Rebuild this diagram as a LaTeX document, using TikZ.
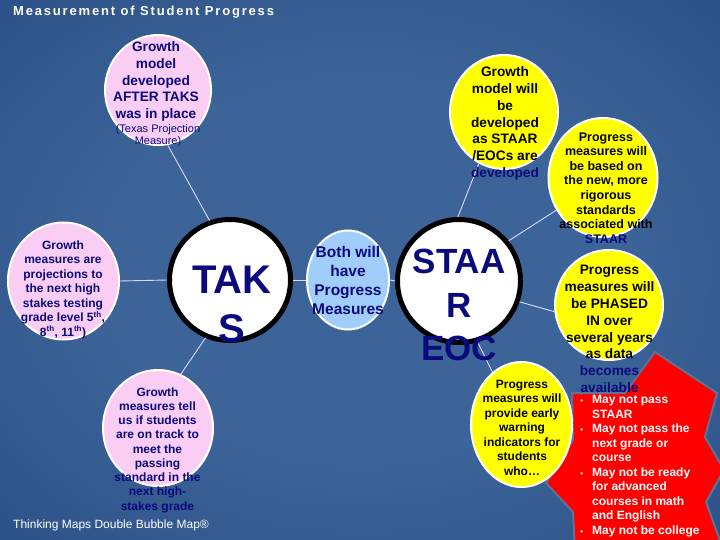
\documentclass[tikz,border=0pt]{standalone}
\usepackage{fontspec}
\setmainfont{Liberation Sans}
\usetikzlibrary{shapes.geometric}
\definecolor{navy}{RGB}{10,10,125}
\definecolor{pinkb}{RGB}{250,205,245}
\definecolor{yel}{RGB}{255,255,0}
\definecolor{lblue}{RGB}{160,205,250}
\definecolor{starred}{RGB}{255,0,0}
\definecolor{starline}{RGB}{95,115,150}
\definecolor{bgc}{RGB}{60,100,152}
\definecolor{bgm}{RGB}{45,82,137}
\definecolor{bgo}{RGB}{28,55,112}
\definecolor{bge}{RGB}{18,38,92}
\pgfdeclareradialshading{bgshade}{\pgfpoint{0bp}{0bp}}{color(0bp)=(bgc); color(18bp)=(bgc); color(35bp)=(bgm); color(52bp)=(bgo); color(72bp)=(bge)}
\begin{document}
\begin{tikzpicture}[x=1pt,y=-1pt,
  bub/.style={ellipse, draw=white, line width=2pt, inner sep=0pt},
  ring/.style={circle, draw=black, fill=white, line width=5pt, inner sep=0pt},
  conn/.style={draw=white!85!blue, line width=0.9pt},
  tbig/.style={font=\fontsize{13.7}{16.8}\selectfont\bfseries, align=center, inner sep=0pt},
  tsmall/.style={font=\fontsize{12}{14.5}\selectfont\bfseries, align=center, inner sep=0pt}]
\useasboundingbox (0,0) rectangle (720,540);
\shade[shading=bgshade] (0,0) rectangle (720,540);
% title
\node[anchor=west, inner sep=0pt, text=white, font=\fontsize{13}{15}\selectfont\bfseries\addfontfeatures{LetterSpace=14}] (title) at (13,12) {Measurement of Student Progress};
% star
\filldraw[fill=starred, draw=starline, line width=2pt, line join=miter]
  (655,352) -- (717,393) -- (705,437) -- (724,470) -- (706,502) -- (724,552)
  -- (575,552) -- (573,512) -- (546,483) -- (573,440) -- (572,393)
  -- (625,393) -- cycle;
% bubbles
\node[bub, fill=pinkb, minimum width=106pt, minimum height=110pt] (tp) at (158,90) {};
\node[bub, fill=yel, minimum width=108pt, minimum height=114pt] (ty) at (504,112) {};
\node[bub, fill=yel, minimum width=109pt, minimum height=119pt] (ur) at (603,177.5) {};
\node[bub, fill=pinkb, minimum width=111pt, minimum height=117pt] (lp) at (63.5,281) {};
\node[ring, minimum size=121pt] (taks) at (230,280) {};
\node[bub, fill=lblue, minimum width=82pt, minimum height=99pt] (both) at (348,280) {};
\node[ring, minimum size=123pt] (staar) at (459,281) {};
\node[bub, fill=yel, minimum width=108pt, minimum height=110pt] (ph) at (609,305) {};
\node[bub, fill=yel, minimum width=101pt, minimum height=125pt] (ew) at (521.5,424.5) {};
\node[bub, fill=pinkb, minimum width=110pt, minimum height=116pt] (bp) at (158,428) {};
% connectors
\draw[conn] (taks.109) -- (tp.280);
\draw[conn] (taks.247) -- (bp.67);
\draw[conn] (lp.east) -- (taks.west);
\draw[conn] (taks.east) -- (both.west);
\draw[conn] (both.east) -- (staar.west);
\draw[conn] (staar.91) -- (ty.244);
\draw[conn] (staar.39) -- (ur.215);
\draw[conn] (staar.341) -- (ph.187);
\draw[conn] (staar.287) -- (ew.119);
% texts
\node[tbig, text=navy] (tpt) at (156,81.5) {Growth\\model\\developed\\AFTER TAKS\\was in place};
\node[inner sep=0pt, align=center, text=navy, font=\fontsize{11}{12}\selectfont] (tps) at (158,136) {(Texas Projection\\Measure)};
\node[tbig, text=black] (tyt) at (505,123.5) {Growth\\model will\\be\\developed\\as STAAR\\/EOCs are\\\textcolor{navy}{developed}};
\node[tsmall, text=black, font=\fontsize{12.5}{14.6}\selectfont\bfseries] (urt) at (606,188) {Progress\\measures will\\be based on\\the new, more\\rigorous\\standards\\associated with\\\textcolor{navy}{STAAR}};
\node[tsmall, text=navy] (lpt) at (63,289.5) {Growth\\measures are\\projections to\\the next high\\stakes testing\\grade level 5\textsuperscript{th},\\8\textsuperscript{th}, 11\textsuperscript{th})};
\node[inner sep=0pt, align=center, text=navy, font=\fontsize{40}{49}\selectfont\bfseries] (takst) at (232,304) {TAK\\S};
\node[inner sep=0pt, align=center, text=navy, font=\fontsize{15.5}{19}\selectfont\bfseries] (botht) at (348,280) {Both will\\have\\Progress\\Measures};
\node[inner sep=0pt, align=center, text=navy, font=\fontsize{35}{43.5}\selectfont\bfseries] (staart) at (459,305) {STAA\\R\\EOC};
\node[tbig, text=black] (pht) at (609.5,329) {Progress\\measures will\\be PHASED\\IN over\\several years\\as data\\\textcolor{navy}{becomes}\\\textcolor{navy}{available}};
\node[tsmall, text=black] (ewt) at (522,427.5) {Progress\\measures will\\provide early\\warning\\indicators for\\students\\who…};
\node[tsmall, text=navy, font=\fontsize{12}{14.25}\selectfont\bfseries] (bpt) at (157.5,450) {Growth\\measures tell\\us if students\\are on track to\\meet the\\passing\\standard in the\\next high-\\stakes grade};
\node[tsmall, align=left, anchor=west, text=white] (stt) at (592,466) {\llap{{\fontsize{8}{8}\selectfont •}\hspace{9pt}}May not pass\\STAAR\\\llap{{\fontsize{8}{8}\selectfont •}\hspace{9pt}}May not pass the\\next grade or\\course\\\llap{{\fontsize{8}{8}\selectfont •}\hspace{9pt}}May not be ready\\for advanced\\courses in math\\and English\\\llap{{\fontsize{8}{8}\selectfont •}\hspace{9pt}}May not be college};
\node[anchor=west, inner sep=0pt, text=white, font=\fontsize{12}{14}\selectfont] (tm) at (13,525) {Thinking Maps Double Bubble Map®};
\end{tikzpicture}
\end{document}
